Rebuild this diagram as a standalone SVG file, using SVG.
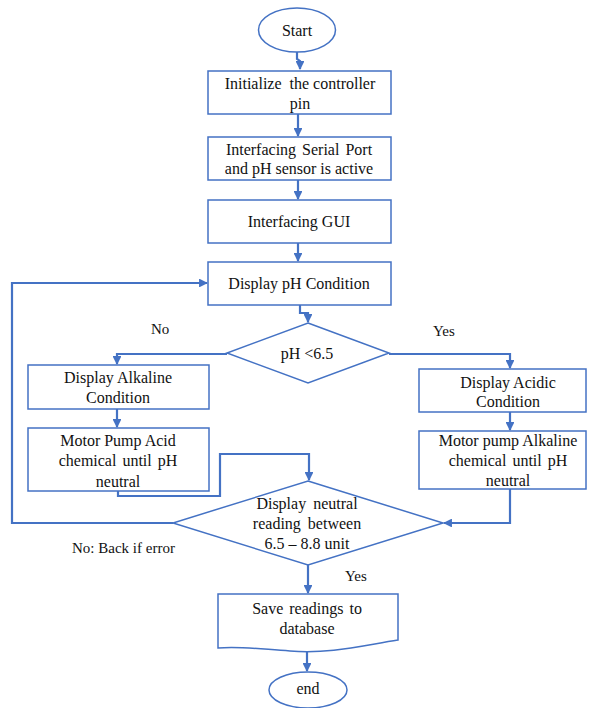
<svg xmlns="http://www.w3.org/2000/svg" width="589" height="708" viewBox="0 0 589 708">
<style>
.n{fill:#fff;stroke:#4472C4;stroke-width:1.5}
.t{font-family:'Liberation Serif','DejaVu Serif',serif;font-size:16px;fill:#111;text-anchor:middle}
.l{font-family:'Liberation Serif','DejaVu Serif',serif;font-size:15px;fill:#111}
.c{fill:none;stroke:#4472C4;stroke-width:2.2}
</style>
<defs>
<marker id="a" viewBox="0 0 10 10" refX="9" refY="5" markerWidth="4" markerHeight="4" orient="auto" markerUnits="strokeWidth">
<path d="M0,0 L10,5 L0,10 z" fill="#4472C4"/>
</marker>
</defs>
<rect width="589" height="708" fill="#fff"/>
<g id="connectors">
<path class="c" d="M297,52 V59 L300,61 V69" marker-end="url(#a)"/>
<path class="c" d="M298,114 V136" marker-end="url(#a)"/>
<path class="c" d="M298,180 V199" marker-end="url(#a)"/>
<path class="c" d="M298,243 V261" marker-end="url(#a)"/>
<path class="c" d="M300,305 V313 H308 V322" marker-end="url(#a)"/>
<path class="c" d="M227,354 H117 V364" marker-end="url(#a)"/>
<path class="c" d="M389,354 H510 V368" marker-end="url(#a)"/>
<path class="c" d="M117,409 V427" marker-end="url(#a)"/>
<path class="c" d="M510,412 V430" marker-end="url(#a)"/>
<path class="c" d="M118,491 V496 H220 V454 H309 V480" marker-end="url(#a)"/>
<path class="c" d="M510,489 V523 H444" marker-end="url(#a)"/>
<path class="c" d="M173,523 H12 V283 H207" marker-end="url(#a)"/>
<path class="c" d="M308,565 V593" marker-end="url(#a)"/>
<path class="c" d="M307,648 V671" marker-end="url(#a)"/>
</g>
<g id="start">
<ellipse class="n" cx="297" cy="30" rx="38.5" ry="22"/>
<text class="t" x="297" y="36">Start</text>
</g>
<g id="init">
<rect class="n" x="208" y="71" width="183" height="43"/>
<text class="t" x="300" y="89" xml:space="preserve">Initialize  the controller</text>
<text class="t" x="300" y="109">pin</text>
</g>
<g id="serial">
<rect class="n" x="208" y="137" width="183" height="43"/>
<text class="t" x="299" y="155" word-spacing="2">Interfacing Serial Port</text>
<text class="t" x="299" y="174">and pH sensor is active</text>
</g>
<g id="gui">
<rect class="n" x="208" y="200" width="183" height="43"/>
<text class="t" x="299" y="227">Interfacing GUI</text>
</g>
<g id="display-ph">
<rect class="n" x="208" y="262" width="183" height="43"/>
<text class="t" x="299" y="289">Display pH Condition</text>
</g>
<g id="decision-ph">
<polygon class="n" points="308,323 389,353 308,383 227,353"/>
<text class="t" x="307" y="359">pH &lt;6.5</text>
</g>
<g id="alkaline">
<rect class="n" x="28" y="365" width="181" height="44"/>
<text class="t" x="118" y="383">Display Alkaline</text>
<text class="t" x="118" y="403">Condition</text>
</g>
<g id="pump-acid">
<rect class="n" x="28" y="428" width="181" height="63"/>
<text class="t" x="118" y="446">Motor Pump Acid</text>
<text class="t" x="118" y="466" word-spacing="2">chemical until pH</text>
<text class="t" x="118" y="487">neutral</text>
</g>
<g id="acidic">
<rect class="n" x="419" y="369" width="167" height="43"/>
<text class="t" x="508" y="388">Display Acidic</text>
<text class="t" x="508" y="407">Condition</text>
</g>
<g id="pump-alkaline">
<rect class="n" x="419" y="431" width="167" height="58"/>
<text class="t" x="508" y="446">Motor pump Alkaline</text>
<text class="t" x="508" y="466" word-spacing="2">chemical until pH</text>
<text class="t" x="508" y="486">neutral</text>
</g>
<g id="decision-neutral">
<polygon class="n" points="308,481 443,523 308,565 173,523"/>
<text class="t" x="307" y="509" word-spacing="3">Display neutral</text>
<text class="t" x="307" y="529" word-spacing="3">reading between</text>
<text class="t" x="307" y="549">6.5 – 8.8 unit</text>
</g>
<g id="save">
<path class="n" d="M218,594 H398 V640 C360,646 330,654 290,651 C260,649 240,646 218,648 Z"/>
<text class="t" x="307" y="614" word-spacing="2">Save readings to</text>
<text class="t" x="307" y="634">database</text>
</g>
<g id="end">
<ellipse class="n" cx="308" cy="690" rx="39" ry="18"/>
<text class="t" x="308" y="694">end</text>
</g>
<g id="labels">
<text class="l" x="151" y="334">No</text>
<text class="l" x="433" y="336">Yes</text>
<text class="l" x="72" y="553">No: Back if error</text>
<text class="l" x="345" y="581">Yes</text>
</g>
</svg>
